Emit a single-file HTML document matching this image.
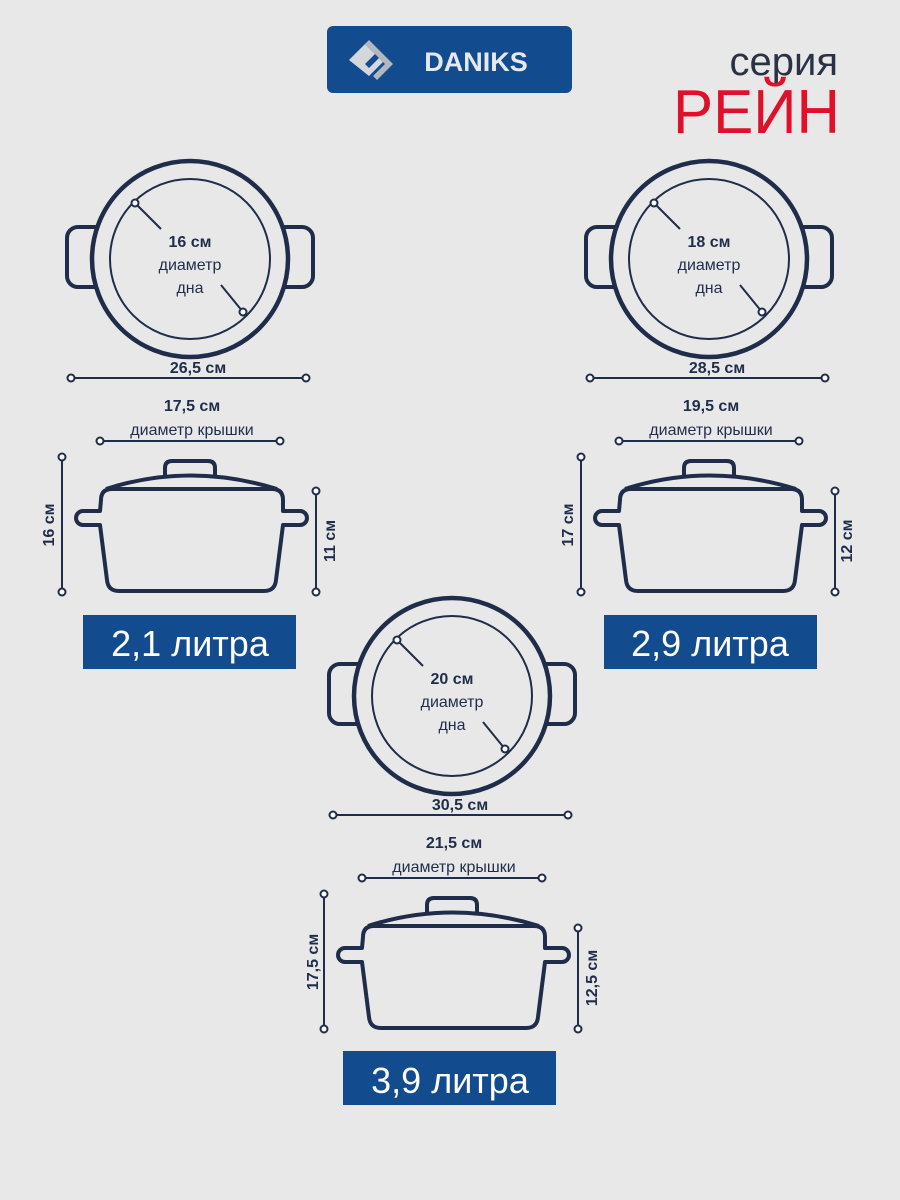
<!DOCTYPE html>
<html><head><meta charset="utf-8"><style>
html,body{margin:0;padding:0;background:#e8e8e8}
svg{display:block}
.b{font-family:"Liberation Sans","DejaVu Sans",sans-serif;font-weight:bold;font-size:16px;fill:#1f2d4a;text-anchor:middle}
.n{font-family:"Liberation Sans","DejaVu Sans",sans-serif;font-size:16px;fill:#1f2d4a;text-anchor:middle}
.lt{font-family:"Liberation Sans","DejaVu Sans",sans-serif;font-size:36px;fill:#fff;text-anchor:middle}
</style></head><body>
<svg width="900" height="1200" viewBox="0 0 900 1200" xmlns="http://www.w3.org/2000/svg">
<rect width="900" height="1200" fill="#e8e8e8"/>
<defs>
<g id="top" fill="none" stroke="#1f2d4a">
  <rect x="67" y="227" width="40" height="60" rx="11" stroke-width="4" fill="#e8e8e8"/>
  <rect x="273" y="227" width="40" height="60" rx="11" stroke-width="4" fill="#e8e8e8"/>
  <circle cx="190" cy="259" r="98" stroke-width="4.5" fill="#e8e8e8"/>
  <circle cx="190" cy="259" r="80" stroke-width="2"/>
  <line x1="135" y1="203" x2="161" y2="229" stroke-width="2"/>
  <line x1="221" y1="285" x2="243" y2="312" stroke-width="2"/>
  <circle cx="135" cy="203" r="3.5" stroke-width="2" fill="#fff"/>
  <circle cx="243" cy="312" r="3.5" stroke-width="2" fill="#fff"/>
  <line x1="71" y1="378" x2="306" y2="378" stroke-width="2"/>
  <circle cx="71" cy="378" r="3.5" stroke-width="2" fill="#fff"/>
  <circle cx="306" cy="378" r="3.5" stroke-width="2" fill="#fff"/>
  <line x1="100" y1="441" x2="280" y2="441" stroke-width="2"/>
  <circle cx="100" cy="441" r="3.5" stroke-width="2" fill="#fff"/>
  <circle cx="280" cy="441" r="3.5" stroke-width="2" fill="#fff"/>
  <path d="M165,476 L165,468 Q165,461 172,461 L208,461 Q215,461 215,468 L215,476" stroke-width="4"/>
  <path d="M106,489 Q190,462 277,489" stroke-width="4"/>
  <path d="M101,500 Q101,489 112,489 L272,489 Q283,489 283,500 L283,511 L300,511 A7,7 0 0 1 300,525 L283,525 L276,580 Q275,591 264,591 L119,591 Q108,591 107,580 L100,525 L83,525 A7,7 0 0 1 83,511 L100,511 Z" stroke-width="4" stroke-linejoin="round"/>
  <line x1="62" y1="457" x2="62" y2="592" stroke-width="2"/>
  <circle cx="62" cy="457" r="3.5" stroke-width="2" fill="#fff"/>
  <circle cx="62" cy="592" r="3.5" stroke-width="2" fill="#fff"/>
  <line x1="316" y1="491" x2="316" y2="592" stroke-width="2"/>
  <circle cx="316" cy="491" r="3.5" stroke-width="2" fill="#fff"/>
  <circle cx="316" cy="592" r="3.5" stroke-width="2" fill="#fff"/>
</g>
</defs>

<!-- logo -->
<rect x="327" y="26" width="245" height="67" rx="6" fill="#124b8e"/>
<g transform="translate(374,60)">
  <path d="M-25,0 L-9,-16 L1,-6 L-9,4 L-5,8 L5,-2 L9,2 L-5,16 Z" fill="#d4d7dc"/>
  <path d="M-9,-16 L-5,-20 L19,4 L3,20 L-1,16 L11,4 Z" fill="#b3b8bf"/>
</g>
<text x="476" y="71" font-family="Liberation Sans,sans-serif" font-weight="bold" font-size="27" fill="#e6e8ec" text-anchor="middle">DANIKS</text>
<text x="838" y="75" font-family="Liberation Sans,sans-serif" font-size="40" fill="#2a3346" text-anchor="end">серия</text>
<text x="840" y="133" font-family="Liberation Sans,sans-serif" font-size="62" fill="#e0102a" text-anchor="end" textLength="167" lengthAdjust="spacingAndGlyphs">РЕЙН</text>

<!-- set 1 -->
<use href="#top"/>
<text class="b" x="190" y="247">16 см</text>
<text class="n" x="190" y="270">диаметр</text>
<text class="n" x="190" y="293">дна</text>
<text class="b" x="198" y="373">26,5 см</text>
<text class="b" x="192" y="411">17,5 см</text>
<text class="n" x="192" y="435">диаметр крышки</text>
<text class="b" transform="translate(54,525) rotate(-90)">16 см</text>
<text class="b" transform="translate(335,541) rotate(-90)">11 см</text>
<rect x="83" y="615" width="213" height="54" fill="#124b8e"/>
<text class="lt" x="190" y="656">2,1 литра</text>

<!-- set 2 -->
<use href="#top" transform="translate(519,0)"/>
<text class="b" x="709" y="247">18 см</text>
<text class="n" x="709" y="270">диаметр</text>
<text class="n" x="709" y="293">дна</text>
<text class="b" x="717" y="373">28,5 см</text>
<text class="b" x="711" y="411">19,5 см</text>
<text class="n" x="711" y="435">диаметр крышки</text>
<text class="b" transform="translate(573,525) rotate(-90)">17 см</text>
<text class="b" transform="translate(852,541) rotate(-90)">12 см</text>
<rect x="604" y="615" width="213" height="54" fill="#124b8e"/>
<text class="lt" x="710" y="656">2,9 литра</text>

<!-- set 3 -->
<use href="#top" transform="translate(262,437)"/>
<text class="b" x="452" y="684">20 см</text>
<text class="n" x="452" y="707">диаметр</text>
<text class="n" x="452" y="730">дна</text>
<text class="b" x="460" y="810">30,5 см</text>
<text class="b" x="454" y="848">21,5 см</text>
<text class="n" x="454" y="872">диаметр крышки</text>
<text class="b" transform="translate(318,962) rotate(-90)">17,5 см</text>
<text class="b" transform="translate(597,978) rotate(-90)">12,5 см</text>
<rect x="343" y="1051" width="213" height="54" fill="#124b8e"/>
<text class="lt" x="450" y="1093">3,9 литра</text>
</svg>
</body></html>
